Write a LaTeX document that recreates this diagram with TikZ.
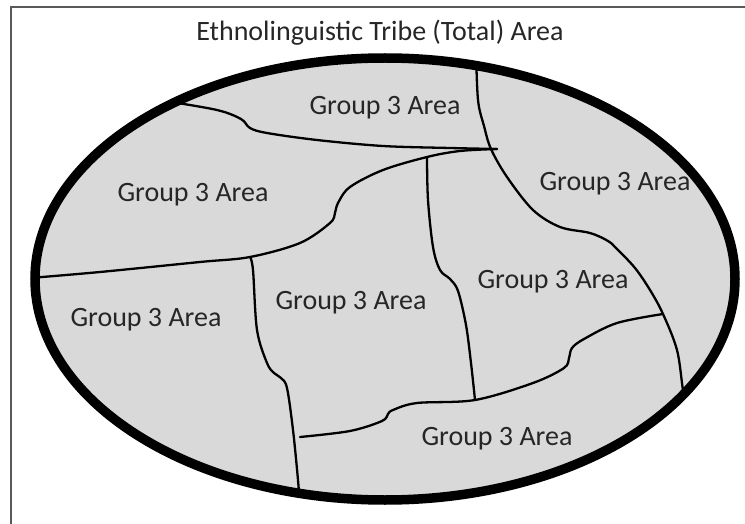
\documentclass[tikz,border=0pt]{standalone}
\usepackage{fontspec}
\setmainfont{Carlito}
\begin{document}
\begin{tikzpicture}[x=1pt,y=-1pt,
  frame/.style={draw=black!65,line width=1.6pt},
  territory/.style={fill=black!15},
  rim/.style={draw=black,line width=9.5pt},
  border/.style={draw=black,line width=2.3pt,line cap=round,line join=round},
  region/.style={font=\fontsize{28}{30}\selectfont,text=black!85,inner sep=0pt},
  heading/.style={font=\fontsize{28}{30}\selectfont,text=black!85,inner sep=0pt}]
\useasboundingbox (0,0) rectangle (745,524);
\clip (0,0) rectangle (745,524);

% outer frame (runs past the page on the right and bottom)
\draw[frame] (11,7) rectangle (800,600);

% the whole tribe area
\path[territory] (385,279) ellipse [x radius=350, y radius=221];

% junctions and rim points of the internal boundaries
\coordinate (aW) at (165,101);
\coordinate (bW) at (30,278);
\coordinate (cN) at (476,50);
\coordinate (cS) at (687,405);
\coordinate (fS) at (300,508);
\coordinate (jNE) at (497,149);
\coordinate (jC) at (491,149);
\coordinate (jD) at (427,157);
\coordinate (jF) at (250,257);
\coordinate (jE) at (300,437);
\coordinate (jDE) at (475,400);
\coordinate (jCE) at (663,314);

\begin{scope}
  \clip (385,279) ellipse [x radius=350, y radius=221];
  % A: upper-left boundary
  \draw[border] plot[smooth,tension=0.55] coordinates
    {(aW) (217,110) (241,119) (250,128) (267,133) (317,140) (383,146) (450,148) (jNE)};
  % B: long west boundary
  \draw[border] plot[smooth,tension=0.55] coordinates
    {(bW) (100,272) (200,262) (jF) (300,243) (330,223) (335,213) (338,203) (350,187) (383,170) (jD) (460,151) (jNE)};
  % C: eastern boundary from top rim to bottom-right rim
  \draw[border] plot[smooth,tension=0.55] coordinates
    {(cN) (478,100) (484,126) (jC) (507,177) (533,210) (560,227) (590,233) (608,241) (617,249) (635,268) (650,290) (jCE) (677,350) (683,390) (cS)};
  % D: central boundary
  \draw[border] plot[smooth,tension=0.55] coordinates
    {(jD) (428,200) (433,247) (440,270) (450,279) (458,291) (466,325) (471,363) (jDE)};
  % E: southern boundary
  \draw[border] plot[smooth,tension=0.55] coordinates
    {(jE) (350,431) (382,421) (388,414) (393,410) (417,403) (jDE) (533,383) (564,368) (569,358) (572,348) (584,339) (617,323) (jCE)};
  % F: south-west boundary
  \draw[border] plot[smooth,tension=0.55] coordinates
    {(jF) (253,270) (257,330) (267,363) (274,373) (281,378) (287,388) (293,430) (298,480) (fS)};
\end{scope}

% rim of the tribe area
\draw[rim] (385,279) ellipse [x radius=350, y radius=221];

% labels
\node[heading] (title) at (380,33) {Ethnolinguistic Tribe (Total) Area};
\node[region] (g1) at (385,108) {Group 3 Area};
\node[region] (g2) at (193,195) {Group 3 Area};
\node[region] (g3) at (615,184) {Group 3 Area};
\node[region] (g4) at (146,320) {Group 3 Area};
\node[region] (g5) at (351,303) {Group 3 Area};
\node[region] (g6) at (553,282) {Group 3 Area};
\node[region] (g7) at (497,439) {Group 3 Area};
\end{tikzpicture}
\end{document}
